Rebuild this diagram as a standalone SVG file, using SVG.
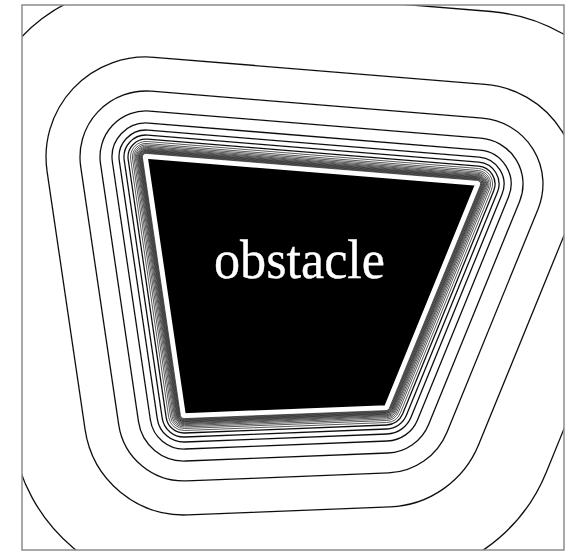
<svg xmlns="http://www.w3.org/2000/svg" width="569" height="551" viewBox="0 0 569 551">
<style>
.c{fill:none;stroke:#111;stroke-width:1.3}
.d{fill:none;stroke:#222;stroke-width:.75}
.o{fill:#000;stroke:#fff;stroke-width:3.6;stroke-linejoin:miter}
.f{fill:none;stroke:#8c8c8c;stroke-width:1.5}
.t{font-family:"Liberation Serif",serif;font-size:54px;fill:#fff;stroke:#fff;stroke-width:.35}
</style>
<defs>
<clipPath id="frame"><rect x="22" y="5" width="542" height="545"/></clipPath>
<filter id="soft" x="-5%" y="-5%" width="110%" height="110%"><feGaussianBlur stdDeviation="0.4"/></filter>
</defs>
<rect width="569" height="551" fill="#fff"/>
<g id="contours" clip-path="url(#frame)"><g filter="url(#soft)">
<path class="c" d="M160 -15.5L491 11.5A173 173 0 0 1 637.2 249.4L546.2 472.4A173 173 0 0 1 392.9 579.8L190.9 587.8A173 173 0 0 1 12.9 440.3L-25.1 182.3A173 173 0 0 1 160 -15.5Z"/>
<path class="c" d="M154.1 57.3L485.1 84.3A100 100 0 0 1 569.6 221.8L478.6 444.8A100 100 0 0 1 390 506.9L188 514.9A100 100 0 0 1 85.1 429.6L47.1 171.6A100 100 0 0 1 154.1 57.3Z"/>
<path class="c" d="M151.3 91.2L482.3 118.2A66 66 0 0 1 538.1 208.9L447.1 431.9A66 66 0 0 1 388.6 472.9L186.6 480.9A66 66 0 0 1 118.7 424.6L80.7 166.6A66 66 0 0 1 151.3 91.2Z"/>
<path class="c" d="M149.7 111.1L480.7 138.1A46 46 0 0 1 519.6 201.4L428.6 424.4A46 46 0 0 1 387.8 453L185.8 461A46 46 0 0 1 138.5 421.7L100.5 163.7A46 46 0 0 1 149.7 111.1Z"/>
<path class="c" d="M148.8 123.1L479.8 150.1A34 34 0 0 1 508.5 196.9L417.5 419.9A34 34 0 0 1 387.4 441L185.4 449A34 34 0 0 1 150.4 420L112.4 162A34 34 0 0 1 148.8 123.1Z"/>
<path class="c" d="M148.2 130.1L479.2 157.1A27 27 0 0 1 502 194.2L411 417.2A27 27 0 0 1 387.1 434L185.1 442A27 27 0 0 1 157.3 418.9L119.3 160.9A27 27 0 0 1 148.2 130.1Z"/>
<path class="c" d="M147.8 135.1L478.8 162.1A22 22 0 0 1 497.4 192.3L406.4 415.3A22 22 0 0 1 386.9 429L184.9 437A22 22 0 0 1 162.2 418.2L124.2 160.2A22 22 0 0 1 147.8 135.1Z"/>
<path class="c" d="M147.5 139.1L478.5 166.1A18 18 0 0 1 493.7 190.8L402.7 413.8A18 18 0 0 1 386.7 425L184.7 433A18 18 0 0 1 166.2 417.6L128.2 159.6A18 18 0 0 1 147.5 139.1Z"/>
<path class="d" d="M147.3 141.5L478.3 168.5A15.5 15.5 0 0 1 491.4 189.9L400.4 412.9A15.5 15.5 0 0 1 386.6 422.5L184.6 430.5A15.5 15.5 0 0 1 168.7 417.3L130.7 159.3A15.5 15.5 0 0 1 147.3 141.5Z"/>
<path class="d" d="M147.1 143.5L478.1 170.5A13.5 13.5 0 0 1 489.5 189.1L398.5 412.1A13.5 13.5 0 0 1 386.5 420.5L184.5 428.5A13.5 13.5 0 0 1 170.6 417L132.6 159A13.5 13.5 0 0 1 147.1 143.5Z"/>
<path class="d" d="M147 145L478 172A12 12 0 0 1 488.1 188.5L397.1 411.5A12 12 0 0 1 386.5 419L184.5 427A12 12 0 0 1 172.1 416.8L134.1 158.8A12 12 0 0 1 147 145Z"/>
<path class="d" d="M146.9 146.3L477.9 173.3A10.7 10.7 0 0 1 486.9 188L395.9 411A10.7 10.7 0 0 1 386.4 417.7L184.4 425.7A10.7 10.7 0 0 1 173.4 416.6L135.4 158.6A10.7 10.7 0 0 1 146.9 146.3Z"/>
<path class="d" d="M146.8 147.4L477.8 174.4A9.6 9.6 0 0 1 485.9 187.6L394.9 410.6A9.6 9.6 0 0 1 386.4 416.6L184.4 424.6A9.6 9.6 0 0 1 174.5 416.4L136.5 158.4A9.6 9.6 0 0 1 146.8 147.4Z"/>
<path class="d" d="M146.7 148.3L477.7 175.3A8.7 8.7 0 0 1 485.1 187.3L394.1 410.3A8.7 8.7 0 0 1 386.3 415.7L184.3 423.7A8.7 8.7 0 0 1 175.4 416.3L137.4 158.3A8.7 8.7 0 0 1 146.7 148.3Z"/>
<path class="d" d="M146.6 149.1L477.6 176.1A7.9 7.9 0 0 1 484.3 187L393.3 410A7.9 7.9 0 0 1 386.3 414.9L184.3 422.9A7.9 7.9 0 0 1 176.2 416.2L138.2 158.2A7.9 7.9 0 0 1 146.6 149.1Z"/>
<path class="d" d="M146.6 149.8L477.6 176.8A7.2 7.2 0 0 1 483.7 186.7L392.7 409.7A7.2 7.2 0 0 1 386.3 414.2L184.3 422.2A7.2 7.2 0 0 1 176.9 416.1L138.9 158.1A7.2 7.2 0 0 1 146.6 149.8Z"/>
<path class="d" d="M146.5 150.4L477.5 177.4A6.6 6.6 0 0 1 483.1 186.5L392.1 409.5A6.6 6.6 0 0 1 386.3 413.6L184.3 421.6A6.6 6.6 0 0 1 177.5 416L139.5 158A6.6 6.6 0 0 1 146.5 150.4Z"/>
<path class="d" d="M146.5 151L477.5 178A6 6 0 0 1 482.6 186.3L391.6 409.3A6 6 0 0 1 386.2 413L184.2 421A6 6 0 0 1 178.1 415.9L140.1 157.9A6 6 0 0 1 146.5 151Z"/>
<path class="d" d="M146.4 151.6L477.4 178.6A5.4 5.4 0 0 1 482 186L391 409A5.4 5.4 0 0 1 386.2 412.4L184.2 420.4A5.4 5.4 0 0 1 178.7 415.8L140.7 157.8A5.4 5.4 0 0 1 146.4 151.6Z"/>
<path class="d" d="M146.4 152.2L477.4 179.2A4.8 4.8 0 0 1 481.4 185.8L390.4 408.8A4.8 4.8 0 0 1 386.2 411.8L184.2 419.8A4.8 4.8 0 0 1 179.3 415.7L141.3 157.7A4.8 4.8 0 0 1 146.4 152.2Z"/>
<path class="d" d="M146.3 152.8L477.3 179.8A4.2 4.2 0 0 1 480.9 185.6L389.9 408.6A4.2 4.2 0 0 1 386.2 411.2L184.2 419.2A4.2 4.2 0 0 1 179.8 415.6L141.8 157.6A4.2 4.2 0 0 1 146.3 152.8Z"/>
<path class="d" d="M146.3 153.4L477.3 180.4A3.6 3.6 0 0 1 480.3 185.4L389.3 408.4A3.6 3.6 0 0 1 386.1 410.6L184.1 418.6A3.6 3.6 0 0 1 180.4 415.5L142.4 157.5A3.6 3.6 0 0 1 146.3 153.4Z"/>
</g></g>
<rect id="plot-frame" class="f" x="22" y="5" width="542" height="545"/>
<g id="obstacle">
<polygon class="o" points="146,157 477,184 386,407 184,415"/>
<text class="t" x="214" y="278" textLength="171" lengthAdjust="spacingAndGlyphs">obstacle</text>
</g>
</svg>
